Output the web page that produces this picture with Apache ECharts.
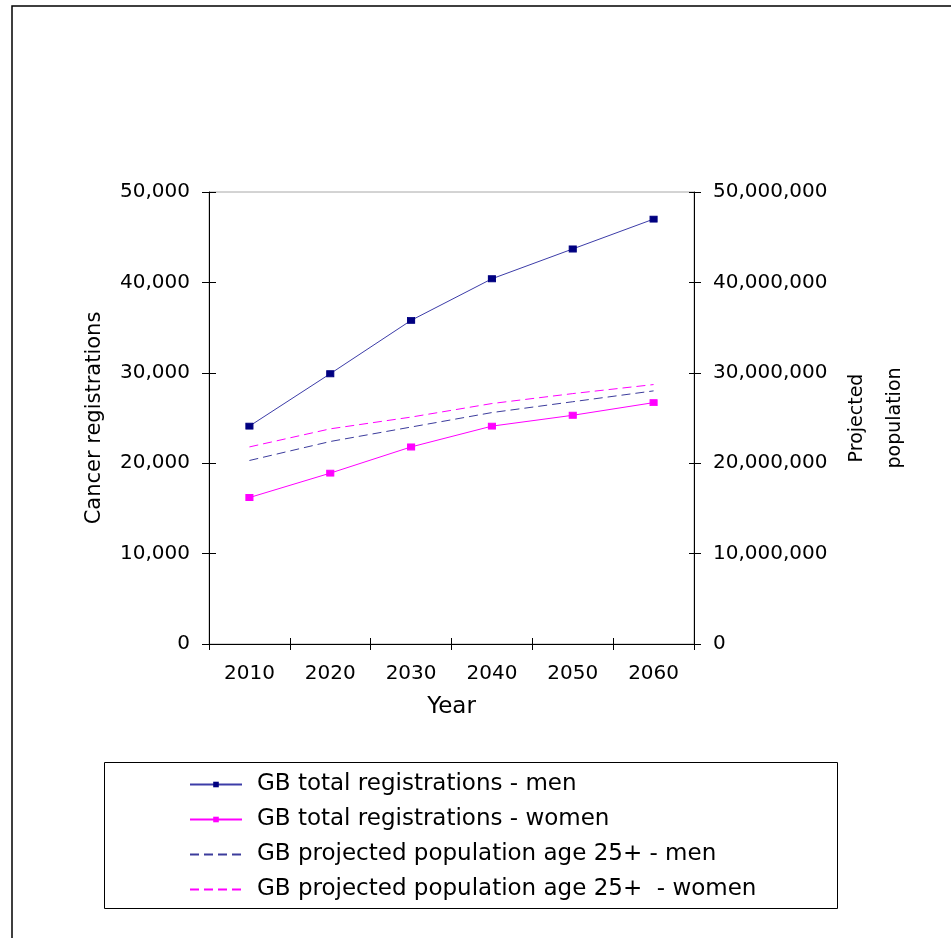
<!DOCTYPE html>
<html>
<head>
<meta charset="utf-8">
<script src="https://cdn.jsdelivr.net/npm/echarts@6/dist/echarts.min.js"></script>
<style>
html,body{margin:0;padding:0;background:#fff;}
#chart{width:951px;height:938px;}
</style>
</head>
<body>
<div id="chart"></div>
<script>
var years = ['2010', '2020', '2030', '2040', '2050', '2060'];
var menReg = [24100, 29900, 35800, 40400, 43700, 47000];
var womenReg = [16200, 18900, 21800, 24100, 25300, 26700];
var menPop = [20300000, 22400000, 24000000, 25600000, 26800000, 28000000];
var womenPop = [21800000, 23800000, 25100000, 26600000, 27700000, 28700000];
var seriesNames = [
  'GB total registrations - men',
  'GB total registrations - women',
  'GB projected population age 25+ - men',
  'GB projected population age 25+  - women'
];

var FONT = 'DejaVu Sans';
function fmt(v) { return String(v).replace(/\B(?=(\d{3})+(?!\d))/g, ','); }

var chart = echarts.init(document.getElementById('chart'), null, {renderer: 'canvas'});
var axisLine = {show: true, lineStyle: {color: '#000', width: 1}};
chart.setOption({
  animation: false,
  backgroundColor: '#fff',
  textStyle: {fontFamily: FONT, color: '#000'},
  grid: {left: 209, right: 257, top: 192, bottom: 294, show: true, borderColor: '#a8a8a8', borderWidth: 1},
  xAxis: [{
    type: 'category', data: years, boundaryGap: true, position: 'bottom',
    axisLine: axisLine,
    axisTick: {show: true, length: 6, lineStyle: {color: '#000'}},
    axisLabel: {color: '#000', fontFamily: FONT, fontSize: 20, margin: 20},
    name: 'Year', nameLocation: 'middle', nameGap: 52,
    nameTextStyle: {color: '#000', fontFamily: FONT, fontSize: 23},
    splitLine: {show: false}
  }, {
    type: 'category', data: years, boundaryGap: true, position: 'bottom',
    axisLine: {show: false},
    axisTick: {show: true, inside: true, length: 6, lineStyle: {color: '#000'}},
    axisLabel: {show: false}, splitLine: {show: false}
  }],
  yAxis: [{
    type: 'value', min: 0, max: 50000, interval: 10000, position: 'left',
    axisLine: axisLine,
    axisTick: {show: true, length: 7, lineStyle: {color: '#000'}},
    axisLabel: {color: '#000', fontFamily: FONT, fontSize: 20, margin: 19, formatter: fmt},
    splitLine: {show: false},
    name: 'Cancer registrations', nameLocation: 'middle', nameGap: 104,
    nameTextStyle: {color: '#000', fontFamily: FONT, fontSize: 21}
  }, {
    type: 'value', min: 0, max: 50000000, interval: 10000000, position: 'right',
    axisLine: axisLine,
    axisTick: {show: true, length: 7, lineStyle: {color: '#000'}},
    axisLabel: {color: '#000', fontFamily: FONT, fontSize: 20, margin: 19, formatter: fmt},
    splitLine: {show: false},
    name: 'Projected\npopulation', nameLocation: 'middle', nameGap: 143,
    nameTextStyle: {color: '#000', fontFamily: FONT, fontSize: 19, lineHeight: 38}
  }, {
    type: 'value', min: 0, max: 50000, interval: 10000, position: 'left',
    axisLine: {show: false},
    axisTick: {show: true, inside: true, length: 7, lineStyle: {color: '#000'}},
    axisLabel: {show: false}, splitLine: {show: false}
  }, {
    type: 'value', min: 0, max: 50000000, interval: 10000000, position: 'right',
    axisLine: {show: false},
    axisTick: {show: true, inside: true, length: 5, lineStyle: {color: '#000'}},
    axisLabel: {show: false}, splitLine: {show: false}
  }],
  legend: {
    orient: 'vertical', left: 189, top: 773, padding: 0,
    itemWidth: 52, itemHeight: 7, itemGap: 12,
    data: [
      {name: seriesNames[0]},
      {name: seriesNames[1]},
      {name: seriesNames[2], itemStyle: {opacity: 0}},
      {name: seriesNames[3], itemStyle: {opacity: 0}}
    ],
    textStyle: {color: '#000', fontFamily: FONT, fontSize: 23, padding: [0, 0, 0, 10]}
  },
  graphic: [
    {type: 'rect', silent: true, shape: {x: 12, y: 6, width: 1000, height: 1000},
     style: {fill: 'none', stroke: '#000', lineWidth: 1.5}},
    {type: 'rect', silent: true, shape: {x: 104.5, y: 762.5, width: 733, height: 146},
     style: {fill: 'none', stroke: '#000', lineWidth: 1}}
  ],
  series: [{
    name: seriesNames[0], type: 'line', data: menReg, xAxisIndex: 0, yAxisIndex: 0,
    symbol: 'rect', symbolSize: [7, 6], showSymbol: true,
    lineStyle: {color: '#3c3ca8', width: 1},
    itemStyle: {color: '#000080', borderColor: '#000080'}
  }, {
    name: seriesNames[1], type: 'line', data: womenReg, xAxisIndex: 0, yAxisIndex: 0,
    symbol: 'rect', symbolSize: [7, 6], showSymbol: true,
    lineStyle: {color: '#ff00ff', width: 1},
    itemStyle: {color: '#ff00ff', borderColor: '#ff00ff'}
  }, {
    name: seriesNames[2], type: 'line', data: menPop, xAxisIndex: 0, yAxisIndex: 1,
    symbol: 'none',
    lineStyle: {color: '#3c3c9c', width: 1, type: [9, 5]},
    itemStyle: {color: '#000080'}
  }, {
    name: seriesNames[3], type: 'line', data: womenPop, xAxisIndex: 0, yAxisIndex: 1,
    symbol: 'none',
    lineStyle: {color: '#ff00ff', width: 1, type: [9, 5]},
    itemStyle: {color: '#ff00ff'}
  }]
});
</script>
</body>
</html>
